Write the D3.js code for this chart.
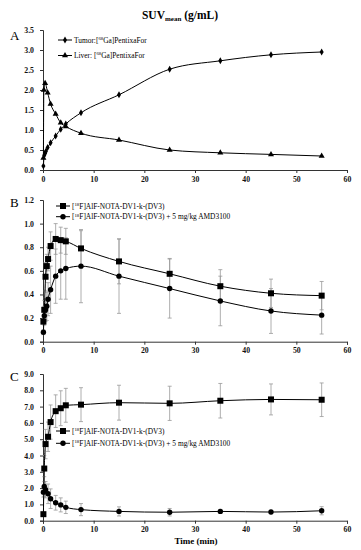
<!DOCTYPE html>
<html>
<head>
<meta charset="utf-8">
<script src="https://cdn.jsdelivr.net/npm/d3@7"></script>
<style>
  body { margin: 0; background: #fff; }
  svg { display: block; font-family: "Liberation Serif", "DejaVu Serif", serif; }
</style>
</head>
<body>
<div id="chart"></div>
<script>
// ---- data ----
const xTicks = [0, 10, 20, 30, 40, 50, 60];

// panel A
const tumorTime = [0.08, 0.25, 0.42, 0.58, 0.92, 1.5, 2.5, 3.5, 4.5, 7.5, 15, 25, 35, 45, 55];
const tumorSuv = [0.1, 0.37, 0.42, 0.47, 0.56, 0.68, 0.85, 1.02, 1.15, 1.43, 1.88, 2.52, 2.73, 2.88, 2.95];
const liverTime = [0.08, 0.17, 0.42, 0.92, 1.5, 2.5, 3.5, 4.5, 7.5, 15, 25, 35, 45, 55];
const liverSuv = [0.3, 2.0, 2.17, 1.93, 1.65, 1.4, 1.18, 1.09, 0.92, 0.75, 0.5, 0.43, 0.39, 0.35];
const yTicksA = [0, 0.5, 1, 1.5, 2, 2.5, 3, 3.5];

// panel B
const timeB = [0.08, 0.25, 0.5, 0.75, 1.0, 1.5, 2.5, 3.5, 4.5, 7.5, 15, 25, 35, 45, 55];
const dv3B = [0.17, 0.27, 0.55, 0.64, 0.70, 0.81, 0.87, 0.86, 0.85, 0.79, 0.68, 0.575, 0.47, 0.41, 0.39];
const dv3ErrB = [0.02, 0.08, 0.12, 0.1, 0.1, 0.12, 0.13, 0.11, 0.11, 0.15, 0.19, 0.13, 0.14, 0.12, 0.12];
const blockB = [0.08, 0.22, 0.27, 0.30, 0.36, 0.44, 0.555, 0.60, 0.62, 0.64, 0.555, 0.45, 0.345, 0.26, 0.225];
const blockErrB = [0.02, 0.08, 0.1, 0.12, 0.14, 0.2, 0.23, 0.24, 0.26, 0.31, 0.315, 0.25, 0.21, 0.19, 0.16];
const yTicksB = [0, 0.2, 0.4, 0.6, 0.8, 1.0, 1.2];

// panel C
const timeC = [0.08, 0.25, 0.5, 1.0, 1.5, 2.5, 3.5, 4.5, 7.5, 15, 25, 35, 45, 55];
const dv3C = [0.4, 3.2, 4.7, 5.15, 6.05, 6.72, 6.9, 7.08, 7.12, 7.24, 7.2, 7.36, 7.44, 7.42];
const dv3ErrC = [0.1, 0.8, 0.9, 0.9, 1.05, 1.0, 1.07, 1.04, 1.04, 1.07, 1.05, 1.06, 0.95, 1.03];
const blockC = [1.75, 2.1, 1.9, 1.65, 1.35, 1.1, 0.97, 0.82, 0.68, 0.57, 0.52, 0.57, 0.53, 0.61];
const blockErrC = [0.3, 0.6, 0.5, 0.6, 0.6, 0.45, 0.43, 0.38, 0.37, 0.28, 0.23, 0.1, 0.1, 0.25];
const yTicksC = [0, 1, 2, 3, 4, 5, 6, 7, 8, 9];

// ---- drawing ----
const W = 361, H = 550;
const svg = d3.select('#chart').append('svg')
  .attr('width', W)
  .attr('height', H);

const x = d3.scaleLinear().domain([0, 60]).range([43, 347]);

svg.append('text')
  .attr('x', 180)
  .attr('y', 19)
  .attr('text-anchor', 'middle')
  .attr('font-size', 11.5)
  .attr('font-weight', 'bold')
  .call(t => {
    t.append('tspan').text('SUV');
    t.append('tspan').attr('font-size', 7).attr('dy', 2).text('mean');
    t.append('tspan').attr('dy', -2).text(' (g/mL)');
  });

const line = (yScale) => d3.line()
  .x(d => x(d.t))
  .y(d => yScale(d.v))
  .curve(d3.curveMonotoneX);

const zip = (ts, vs, es) => ts.map((t, i) => ({ t, v: vs[i], e: es ? es[i] : 0 }));

// adds legend text with a superscript isotope label
const labelText = (sel, pre, sup, post) => {
  sel.append('tspan').text(pre);
  sel.append('tspan').attr('font-size', 4.8).attr('dy', -2.6).text(sup);
  sel.append('tspan').attr('dy', 2.6).text(post);
};

const marker = (g, shape, cx, cy) => {
  if (shape === 'diamond') {
    g.append('path').attr('transform', `translate(${cx},${cy})`)
      .attr('d', d3.symbol(d3.symbolDiamond, 14)()).attr('fill', '#000');
  } else if (shape === 'triangle') {
    g.append('path').attr('transform', `translate(${cx},${cy})`)
      .attr('d', d3.symbol(d3.symbolTriangle, 16)()).attr('fill', '#000');
  } else if (shape === 'square') {
    g.append('rect').attr('x', cx - 3).attr('y', cy - 3)
      .attr('width', 6).attr('height', 6).attr('fill', '#000');
  } else {
    g.append('circle').attr('cx', cx).attr('cy', cy).attr('r', 2.7).attr('fill', '#000');
  }
};

function drawPanel(opts) {
  const y = d3.scaleLinear().domain(opts.yDomain).range(opts.yRange);
  const g = svg.append('g');

  g.append('text')
    .attr('x', 10)
    .attr('y', opts.letterY)
    .attr('font-size', 13)
    .text(opts.letter);

  g.append('g')
    .attr('transform', `translate(0,${opts.yRange[0]})`)
    .call(d3.axisBottom(x).tickValues(xTicks).tickSize(3).tickPadding(3).tickFormat(d3.format('d')))
    .call(a => a.selectAll('text').attr('font-size', 7.8).attr('font-weight', 'bold')
      .attr('font-family', '"Liberation Serif", serif').attr('fill', '#111'));

  g.append('g')
    .attr('transform', `translate(${x(0)},0)`)
    .call(d3.axisLeft(y).tickValues(opts.yTicks).tickSize(3).tickPadding(6).tickFormat(d3.format('.1f')))
    .call(a => a.selectAll('text').attr('font-size', 7.8).attr('font-weight', 'bold')
      .attr('font-family', '"Liberation Serif", serif').attr('fill', '#111'));

  g.selectAll('.domain, .tick line').attr('stroke', '#333');

  opts.series.forEach(s => {
    const data = zip(s.t, s.v, s.err);
    if (s.err) {
      const eb = g.append('g').attr('stroke', '#999').attr('stroke-width', 0.8);
      data.forEach(d => {
        eb.append('line').attr('x1', x(d.t)).attr('x2', x(d.t))
          .attr('y1', y(d.v - d.e)).attr('y2', y(d.v + d.e));
        [d.v - d.e, d.v + d.e].forEach(v => {
          eb.append('line').attr('x1', x(d.t) - 2).attr('x2', x(d.t) + 2)
            .attr('y1', y(v)).attr('y2', y(v));
        });
      });
    }
  });

  opts.series.forEach(s => {
    const data = zip(s.t, s.v, s.err);
    g.append('path').datum(data)
      .attr('fill', 'none')
      .attr('stroke', '#000')
      .attr('stroke-width', 1)
      .attr('d', line(y));
    const mg = g.append('g');
    data.forEach(d => marker(mg, s.shape, x(d.t), y(d.v)));
  });

  // legend
  opts.series.forEach((s, i) => {
    const ly = opts.legendY + i * opts.legendGap;
    const lg = g.append('g');
    lg.append('line').attr('x1', opts.legendX).attr('x2', opts.legendX + 14)
      .attr('y1', ly).attr('y2', ly).attr('stroke', '#000');
    marker(lg, s.shape, opts.legendX + 7, ly);
    lg.append('text')
      .attr('x', opts.legendX + 16)
      .attr('y', ly + 2.5)
      .attr('font-size', 7.4)
      .call(t => labelText(t, s.label[0], s.label[1], s.label[2]));
  });
}

drawPanel({
  letter: 'A', letterY: 40,
  yDomain: [0, 3.5], yRange: [170, 30], yTicks: yTicksA,
  legendX: 58, legendY: 40, legendGap: 15.5,
  series: [
    { t: tumorTime, v: tumorSuv, shape: 'diamond', label: ['Tumor:[', '68', 'Ga]PentixaFor'] },
    { t: liverTime, v: liverSuv, shape: 'triangle', label: ['Liver: [', '68', 'Ga]PentixaFor'] }
  ]
});

drawPanel({
  letter: 'B', letterY: 207,
  yDomain: [0, 1.2], yRange: [341.7, 200], yTicks: yTicksB,
  legendX: 56, legendY: 206, legendGap: 10.7,
  series: [
    { t: timeB, v: dv3B, err: dv3ErrB, shape: 'square', label: ['[', '18', 'F]AlF-NOTA-DV1-k-(DV3)'] },
    { t: timeB, v: blockB, err: blockErrB, shape: 'circle', label: ['[', '18', 'F]AlF-NOTA-DV1-k-(DV3) + 5 mg/kg AMD3100'] }
  ]
});

drawPanel({
  letter: 'C', letterY: 381,
  yDomain: [0, 9], yRange: [520.7, 374], yTicks: yTicksC,
  legendX: 56, legendY: 431, legendGap: 12.3,
  series: [
    { t: timeC, v: dv3C, err: dv3ErrC, shape: 'square', label: ['[', '18', 'F]AlF-NOTA-DV1-k-(DV3)'] },
    { t: timeC, v: blockC, err: blockErrC, shape: 'circle', label: ['[', '18', 'F]AlF-NOTA-DV1-k-(DV3) + 5 mg/kg AMD3100'] }
  ]
});

svg.append('text')
  .attr('x', 196)
  .attr('y', 544)
  .attr('text-anchor', 'middle')
  .attr('font-size', 9)
  .attr('font-weight', 'bold')
  .text('Time (min)');
</script>
</body>
</html>
